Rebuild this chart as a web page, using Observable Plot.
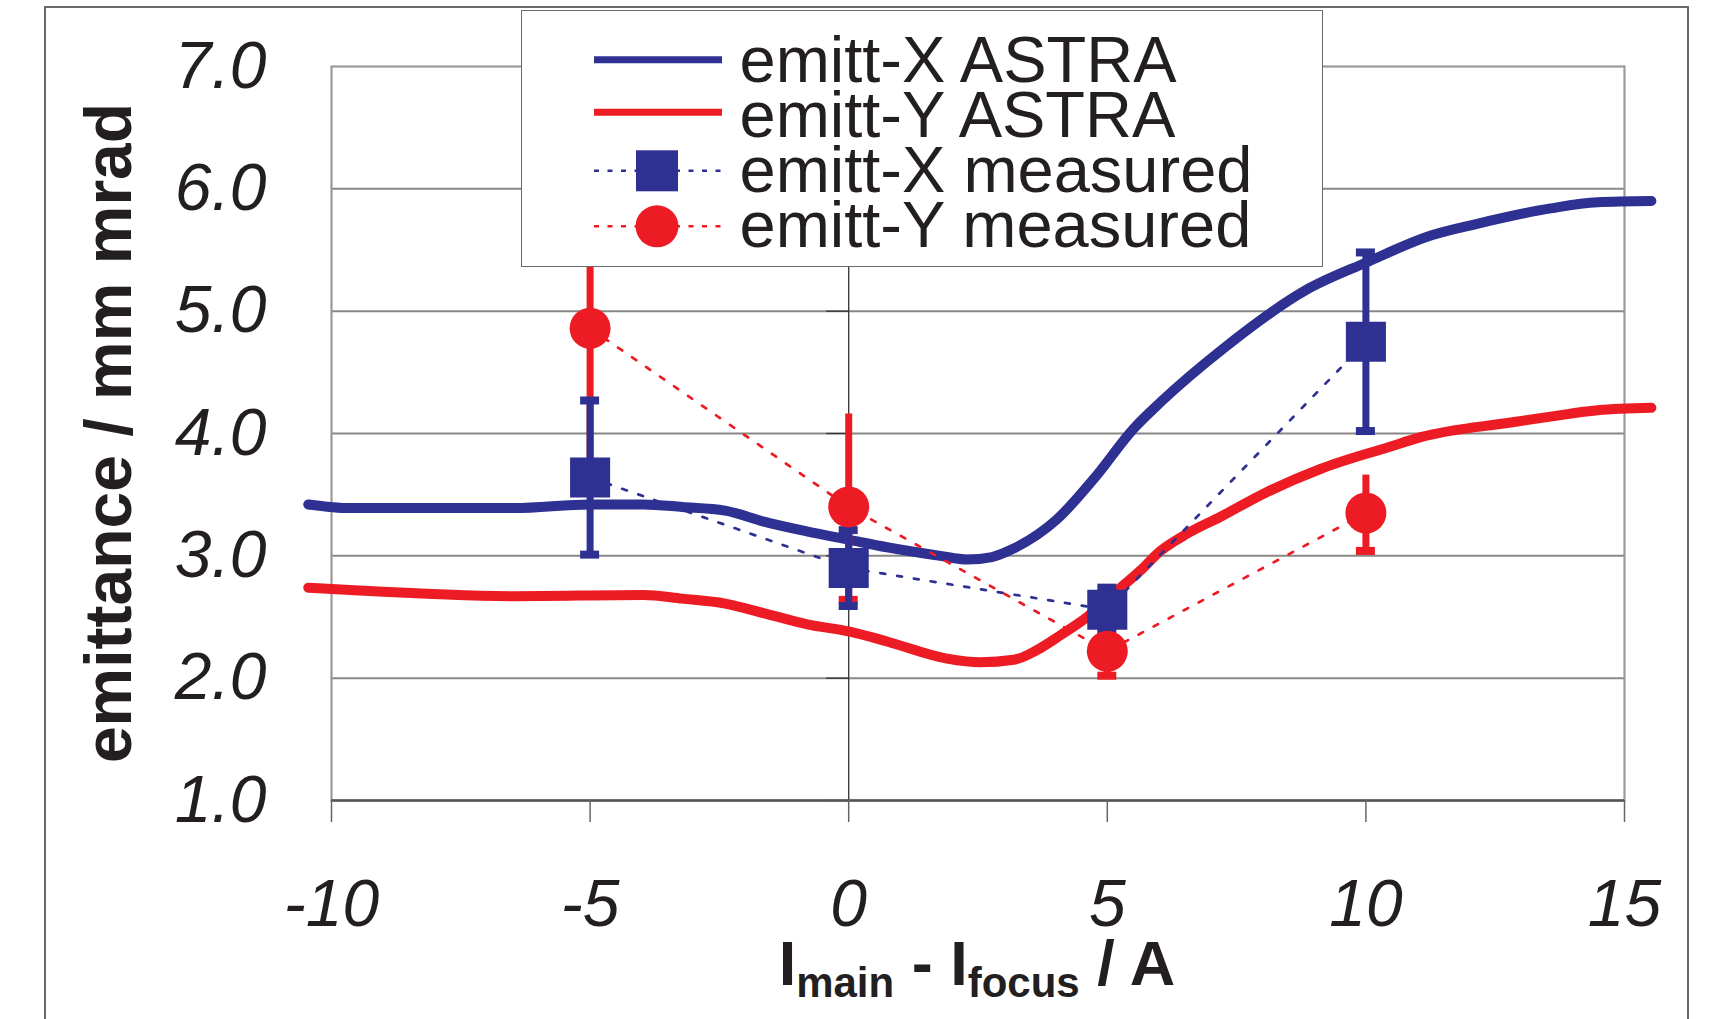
<!DOCTYPE html>
<html>
<head>
<meta charset="utf-8">
<script src="https://cdn.jsdelivr.net/npm/d3@7"></script>
<script src="https://cdn.jsdelivr.net/npm/@observablehq/plot@0.6"></script>
<style>
  html, body { margin: 0; padding: 0; background: #fff; }
  #wrap { position: relative; width: 1715px; height: 1019px; overflow: hidden;
          font-family: 'Liberation Sans', Arial, Helvetica, sans-serif; color: #231f20; }
  #wrap svg.plot { position: absolute; left: 0; top: 0; }
  #outer { position: absolute; left: 44px; top: 6px; width: 1645px; height: 1100px;
           border: 2px solid #6a6a6a; box-sizing: border-box; }
  #legend { position: absolute; left: 521px; top: 10px; width: 802px; height: 257px;
            background: #fff; border: 1.5px solid #6a6a6a; box-sizing: border-box; }
  #legend svg { position: absolute; left: 0; top: 0; overflow: visible; }
</style>
</head>
<body>
<div id="wrap">
  <div id="outer"></div>
  <div id="legend"></div>
</div>
<script>
// Beam emittance versus solenoid current difference: ASTRA simulation and measurement
const blue = "#2e3192";
const red = "#ed1c24";

// ASTRA simulation, horizontal emittance
const astraXCurrent = [-10.45, -9.64, -6.46, -5.0, -3.97, -3.22, -2.39, -1.64, -0.81, 0.02, 0.74, 1.77, 2.29, 2.77, 3.19, 4.03, 4.74, 5.51, 6.04, 7.23, 8.83, 10.02, 11.27, 12.11, 13.57, 14.48, 15.52];
const astraXEmit    = [3.42, 3.39, 3.39, 3.42, 3.42, 3.40, 3.37, 3.28, 3.20, 3.13, 3.07, 3.00, 2.97, 2.99, 3.06, 3.30, 3.63, 4.04, 4.26, 4.69, 5.17, 5.40, 5.62, 5.71, 5.84, 5.89, 5.90];

// ASTRA simulation, vertical emittance
const astraYCurrent = [-10.45, -9.64, -6.46, -3.97, -3.22, -2.39, -1.63, -0.80, 0.02, 0.74, 1.90, 2.55, 3.19, 3.64, 4.09, 4.61, 5.12, 5.64, 6.03, 6.54, 7.19, 8.08, 9.12, 10.45, 11.06, 12.80, 13.60, 14.48, 15.52];
const astraYEmit    = [2.74, 2.72, 2.67, 2.68, 2.65, 2.61, 2.53, 2.44, 2.38, 2.30, 2.16, 2.13, 2.15, 2.23, 2.35, 2.50, 2.69, 2.88, 3.04, 3.18, 3.32, 3.52, 3.71, 3.89, 3.97, 4.09, 4.14, 4.19, 4.21];

// Measurements with error bars
const measCurrent = [-5, 0, 5, 10];
const measXEmit   = [3.64, 2.90, 2.56, 4.75];
const measXErr    = [0.63, 0.31, 0.18, 0.73];
const measYEmit   = [4.86, 3.40, 2.22, 3.35];
const measYErr    = [1.20, 0.76, 0.20, 0.31];

// Axes
const xTicks = [-10, -5, 0, 5, 10, 15];
const yTicks = [1, 2, 3, 4, 5, 6, 7];
const yTitle = "emittance / mm mrad";
const legendLabels = ["emitt-X ASTRA", "emitt-Y ASTRA", "emitt-X measured", "emitt-Y measured"];

const astraX = astraXCurrent.map((x, i) => ({x, y: astraXEmit[i]}));
const astraY = astraYCurrent.map((x, i) => ({x, y: astraYEmit[i]}));
const measX = measCurrent.map((x, i) => ({x, y: measXEmit[i], e: measXErr[i]}));
const measY = measCurrent.map((x, i) => ({x, y: measYEmit[i], e: measYErr[i]}));

const font = "'Liberation Sans', Arial, Helvetica, sans-serif";
const dotted = "5,12";
const curveWidth = 10;

const chart = Plot.plot({
  width: 1715,
  height: 1019,
  marginLeft: 331,
  marginRight: 91,
  marginTop: 66,
  marginBottom: 219,
  x: {domain: [-10, 15], axis: null},
  y: {domain: [1, 7], axis: null},
  style: {fontFamily: font, color: "#231f20", background: "transparent", overflow: "visible"},
  marks: [
    // grid and frame
    Plot.ruleY(yTicks.filter(v => v > 1 && v < 7), {stroke: "#888", strokeWidth: 2}),
    Plot.frame({stroke: "#9a9a9a", strokeWidth: 2.2}),
    Plot.ruleX([0], {stroke: "#333", strokeWidth: 1.3}),
    Plot.ruleY(yTicks, {x1: 0, x2: 0, insetLeft: -22, stroke: "#333", strokeWidth: 1.3}),
    Plot.ruleY([1], {stroke: "#555", strokeWidth: 2.5}),
    Plot.ruleX(xTicks, {y1: 1, y2: 1, insetBottom: -22, stroke: "#666", strokeWidth: 1.5}),

    // tick labels
    Plot.text(yTicks, {y: d => d, text: d => d.toFixed(1), frameAnchor: "left", dx: -65,
      textAnchor: "end", lineAnchor: "middle", fontSize: 66, fontStyle: "italic", fill: "#231f20"}),
    Plot.text(xTicks, {x: d => d, text: d => String(d), frameAnchor: "bottom", dy: 104,
      lineAnchor: "middle", fontSize: 66, fontStyle: "italic", fill: "#231f20"}),

    // simulation curves
    Plot.line(astraX, {x: "x", y: "y", stroke: blue, strokeWidth: curveWidth, curve: "monotone-x"}),
    Plot.line(astraY, {x: "x", y: "y", stroke: red, strokeWidth: curveWidth, curve: "monotone-x"}),

    // measured: connecting dotted lines
    Plot.line(measY, {x: "x", y: "y", stroke: red, strokeWidth: 2.7, strokeDasharray: dotted}),
    Plot.line(measX, {x: "x", y: "y", stroke: blue, strokeWidth: 2.7, strokeDasharray: dotted}),

    // measured: error bars
    Plot.ruleX(measY, {x: "x", y1: d => d.y - d.e, y2: d => d.y + d.e, stroke: red, strokeWidth: 7}),
    Plot.ruleY(measY, {y: d => d.y - d.e, x1: "x", x2: "x", insetLeft: -9.5, insetRight: -9.5, stroke: red, strokeWidth: 8}),
    Plot.ruleX(measX, {x: "x", y1: d => d.y - d.e, y2: d => d.y + d.e, stroke: blue, strokeWidth: 7}),
    Plot.ruleY(measX, {y: d => d.y - d.e, x1: "x", x2: "x", insetLeft: -9.5, insetRight: -9.5, stroke: blue, strokeWidth: 8}),
    Plot.ruleY(measX, {y: d => d.y + d.e, x1: "x", x2: "x", insetLeft: -9.5, insetRight: -9.5, stroke: blue, strokeWidth: 8}),

    // measured: markers
    Plot.dot(measY, {x: "x", y: "y", r: 20.5, fill: red, symbol: "circle"}),
    Plot.dot(measX, {x: "x", y: "y", r: 22.6, fill: blue, symbol: "square"})
  ]
});

// axis titles
const svg = d3.select(chart);
svg.append("text")
  .attr("transform", "translate(130.5,433) rotate(-90)")
  .attr("text-anchor", "middle")
  .attr("font-family", font)
  .attr("font-size", 66)
  .attr("font-weight", "bold")
  .attr("fill", "#231f20")
  .text(yTitle);

const xTitle = svg.append("text")
  .attr("x", 977)
  .attr("y", 985)
  .attr("text-anchor", "middle")
  .attr("font-family", font)
  .attr("font-size", 63)
  .attr("font-weight", "bold")
  .attr("fill", "#231f20");
xTitle.append("tspan").text("I");
xTitle.append("tspan").attr("font-size", 42).attr("dy", 12).text("main");
xTitle.append("tspan").attr("dy", -12).text(" - I");
xTitle.append("tspan").attr("font-size", 42).attr("dy", 12).text("focus");
xTitle.append("tspan").attr("dy", -12).text(" / A");

document.getElementById("wrap").insertBefore(chart, document.getElementById("legend"));

// legend
const lg = d3.select("#legend").append("svg").attr("width", 800).attr("height", 256);
const rows = [48.8, 101.3, 159.8, 215.3];
const baselines = [71.3, 126.3, 181.3, 236.3];
const swatch = [
  {color: blue, dashed: false, symbol: null},
  {color: red, dashed: false, symbol: null},
  {color: blue, dashed: true, symbol: "square"},
  {color: red, dashed: true, symbol: "circle"}
];
swatch.forEach((s, i) => {
  const y = rows[i];
  lg.append("line").attr("x1", 72).attr("x2", 200).attr("y1", y).attr("y2", y)
    .attr("stroke", s.color)
    .attr("stroke-width", s.dashed ? 2.5 : 7)
    .attr("stroke-dasharray", s.dashed ? "5,8.5" : null);
  if (s.symbol === "square") {
    lg.append("rect").attr("x", 135 - 21).attr("y", y - 20.5).attr("width", 42).attr("height", 41).attr("fill", s.color);
  } else if (s.symbol === "circle") {
    lg.append("ellipse").attr("cx", 135).attr("cy", y).attr("rx", 21.5).attr("ry", 21).attr("fill", s.color);
  }
  lg.append("text").attr("x", 217.5).attr("y", baselines[i])
    .attr("font-family", font).attr("font-size", 65).attr("fill", "#231f20")
    .text(legendLabels[i]);
});
</script>
</body>
</html>
